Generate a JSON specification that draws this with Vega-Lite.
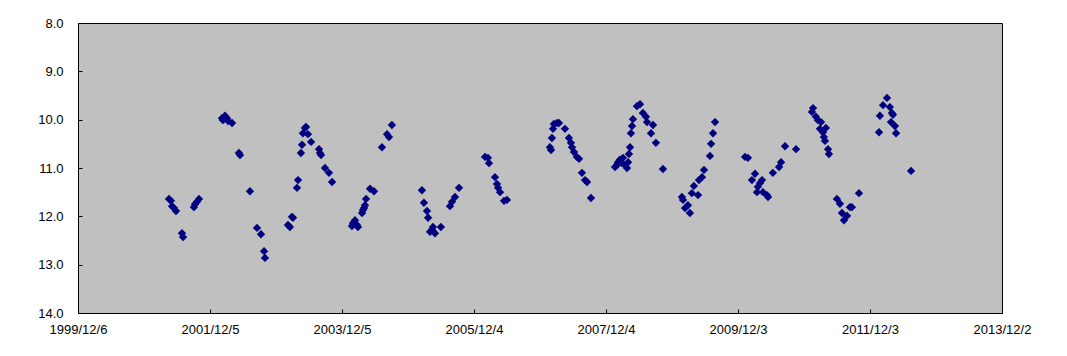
{
  "$schema": "https://vega.github.io/schema/vega-lite/v6.json",
  "width": 924,
  "height": 290,
  "autosize": {"type": "none"},
  "padding": {"left": 78, "top": 23, "right": 65, "bottom": 43},
  "background": "white",
  "config": {
    "view": {"fill": "#C0C0C0", "stroke": "black", "strokeWidth": 1},
    "axis": {
      "domainColor": "black", "tickColor": "black", "labelColor": "black",
      "labelFont": "Liberation Sans", "labelFontSize": 13, "grid": false,
      "tickSize": -4
    }
  },
  "data": {"values": [
    {"d":"2001-04-22","v":11.64},{"d":"2001-05-03","v":11.68},{"d":"2001-05-09","v":11.79},{"d":"2001-05-20","v":11.83},{"d":"2001-05-31","v":11.89},
    {"d":"2001-07-03","v":12.35},{"d":"2001-07-09","v":12.43},{"d":"2001-09-07","v":11.81},{"d":"2001-09-13","v":11.75},{"d":"2001-09-24","v":11.70},{"d":"2001-10-05","v":11.64},
    {"d":"2002-02-09","v":9.97},{"d":"2002-02-15","v":10.01},{"d":"2002-02-26","v":9.92},{"d":"2002-03-09","v":9.97},{"d":"2002-03-15","v":10.03},{"d":"2002-04-06","v":10.07},
    {"d":"2002-05-14","v":10.69},{"d":"2002-05-20","v":10.73},{"d":"2002-07-14","v":11.48},{"d":"2002-08-22","v":12.24},{"d":"2002-09-13","v":12.37},{"d":"2002-09-30","v":12.72},{"d":"2002-10-05","v":12.86},
    {"d":"2003-02-09","v":12.18},{"d":"2003-02-20","v":12.22},{"d":"2003-03-03","v":12.01},{"d":"2003-03-09","v":12.03},{"d":"2003-03-31","v":11.41},{"d":"2003-04-06","v":11.25},
    {"d":"2003-04-22","v":10.69},{"d":"2003-04-28","v":10.52},{"d":"2003-05-03","v":10.28},{"d":"2003-05-14","v":10.17},{"d":"2003-05-20","v":10.15},{"d":"2003-05-31","v":10.30},{"d":"2003-06-17","v":10.46},
    {"d":"2003-07-31","v":10.61},{"d":"2003-08-05","v":10.69},{"d":"2003-08-11","v":10.73},{"d":"2003-09-02","v":11.00},{"d":"2003-09-24","v":11.10},{"d":"2003-10-11","v":11.29},
    {"d":"2004-01-29","v":12.20},{"d":"2004-02-04","v":12.14},{"d":"2004-02-15","v":12.08},{"d":"2004-02-26","v":12.18},{"d":"2004-03-02","v":12.22},{"d":"2004-03-25","v":11.93},{"d":"2004-03-30","v":11.87},
    {"d":"2004-04-05","v":11.83},{"d":"2004-04-10","v":11.77},{"d":"2004-04-16","v":11.64},{"d":"2004-05-08","v":11.43},{"d":"2004-05-30","v":11.48},{"d":"2004-07-13","v":10.57},{"d":"2004-08-10","v":10.30},{"d":"2004-08-21","v":10.36},{"d":"2004-09-06","v":10.11},
    {"d":"2005-02-19","v":11.46},{"d":"2005-03-02","v":11.72},{"d":"2005-03-19","v":11.89},{"d":"2005-03-25","v":12.03},{"d":"2005-04-05","v":12.32},{"d":"2005-04-16","v":12.28},{"d":"2005-04-21","v":12.22},{"d":"2005-05-02","v":12.35},
    {"d":"2005-06-04","v":12.22},{"d":"2005-07-24","v":11.79},{"d":"2005-08-04","v":11.70},{"d":"2005-08-21","v":11.60},{"d":"2005-09-12","v":11.41},
    {"d":"2006-02-03","v":10.77},{"d":"2006-02-19","v":10.79},{"d":"2006-02-25","v":10.90},{"d":"2006-03-30","v":11.19},{"d":"2006-04-10","v":11.33},{"d":"2006-04-16","v":11.41},{"d":"2006-04-27","v":11.50},{"d":"2006-05-19","v":11.68},{"d":"2006-06-04","v":11.66},
    {"d":"2007-01-28","v":10.57},{"d":"2007-02-03","v":10.63},{"d":"2007-02-08","v":10.38},{"d":"2007-02-14","v":10.19},{"d":"2007-02-19","v":10.09},{"d":"2007-03-08","v":10.07},{"d":"2007-03-19","v":10.07},{"d":"2007-04-21","v":10.19},
    {"d":"2007-05-13","v":10.38},{"d":"2007-05-24","v":10.48},{"d":"2007-05-30","v":10.57},{"d":"2007-06-10","v":10.67},{"d":"2007-06-26","v":10.77},{"d":"2007-07-08","v":10.81},{"d":"2007-07-24","v":11.10},{"d":"2007-08-10","v":11.25},{"d":"2007-08-21","v":11.29},{"d":"2007-09-12","v":11.62},
    {"d":"2008-01-23","v":10.98},{"d":"2008-02-03","v":10.94},{"d":"2008-02-08","v":10.88},{"d":"2008-02-19","v":10.83},{"d":"2008-03-01","v":10.90},{"d":"2008-03-07","v":10.79},{"d":"2008-03-18","v":10.94},{"d":"2008-03-29","v":11.00},
    {"d":"2008-04-04","v":10.88},{"d":"2008-04-09","v":10.71},{"d":"2008-04-15","v":10.57},{"d":"2008-04-20","v":10.28},{"d":"2008-04-26","v":10.13},{"d":"2008-05-01","v":9.99},{"d":"2008-05-23","v":9.72},{"d":"2008-06-09","v":9.68},
    {"d":"2008-06-25","v":9.86},{"d":"2008-07-12","v":9.94},{"d":"2008-07-18","v":10.05},{"d":"2008-08-09","v":10.28},{"d":"2008-08-20","v":10.11},{"d":"2008-09-05","v":10.48},{"d":"2008-10-14","v":11.02},
    {"d":"2009-01-27","v":11.60},{"d":"2009-02-02","v":11.66},{"d":"2009-02-13","v":11.83},{"d":"2009-03-01","v":11.77},{"d":"2009-03-12","v":11.93},{"d":"2009-03-23","v":11.52},{"d":"2009-04-03","v":11.37},{"d":"2009-04-26","v":11.56},
    {"d":"2009-05-01","v":11.25},{"d":"2009-05-18","v":11.19},{"d":"2009-05-29","v":11.04},{"d":"2009-07-01","v":10.75},{"d":"2009-07-07","v":10.50},{"d":"2009-07-18","v":10.28},{"d":"2009-07-29","v":10.05},
    {"d":"2010-01-11","v":10.77},{"d":"2010-01-27","v":10.79},{"d":"2010-02-18","v":11.25},{"d":"2010-03-07","v":11.12},{"d":"2010-03-18","v":11.50},{"d":"2010-03-23","v":11.39},{"d":"2010-04-04","v":11.31},{"d":"2010-04-15","v":11.25},
    {"d":"2010-04-20","v":11.50},{"d":"2010-05-12","v":11.56},{"d":"2010-05-18","v":11.60},{"d":"2010-06-14","v":11.10},{"d":"2010-07-18","v":10.98},{"d":"2010-07-29","v":10.88},{"d":"2010-08-20","v":10.55},{"d":"2010-10-20","v":10.61},
    {"d":"2011-01-16","v":9.84},{"d":"2011-01-22","v":9.76},{"d":"2011-02-07","v":9.94},{"d":"2011-02-18","v":10.01},{"d":"2011-03-01","v":10.19},{"d":"2011-03-07","v":10.05},{"d":"2011-03-18","v":10.26},{"d":"2011-03-23","v":10.36},
    {"d":"2011-03-29","v":10.44},{"d":"2011-04-03","v":10.17},{"d":"2011-04-15","v":10.61},{"d":"2011-04-20","v":10.71},{"d":"2011-06-03","v":11.64},{"d":"2011-06-20","v":11.74},{"d":"2011-07-01","v":11.93},{"d":"2011-07-12","v":12.08},
    {"d":"2011-07-29","v":11.99},{"d":"2011-08-14","v":11.81},{"d":"2011-08-25","v":11.81},{"d":"2011-10-03","v":11.52},
    {"d":"2012-01-22","v":10.26},{"d":"2012-01-27","v":9.92},{"d":"2012-02-13","v":9.70},{"d":"2012-03-06","v":9.55},{"d":"2012-03-22","v":9.74},{"d":"2012-03-28","v":10.05},{"d":"2012-04-02","v":9.86},{"d":"2012-04-08","v":9.90},
    {"d":"2012-04-19","v":10.13},{"d":"2012-04-25","v":10.28},{"d":"2012-07-17","v":11.06}
  ]},
  "mark": {"type": "point", "shape": "diamond", "filled": true, "color": "#000080", "opacity": 1, "size": 70},
  "encoding": {
    "x": {
      "field": "d", "type": "temporal", "title": null,
      "scale": {"type": "utc", "nice": false, "domain": [{"year":1999,"month":12,"date":6,"utc":true},{"year":2013,"month":12,"date":2,"utc":true}]},
      "axis": {
        "format": "%Y/%-m/%-d", "labelPadding": 14, "labelFlush": false, "labelOverlap": false,
        "values": [
          {"year":1999,"month":12,"date":6,"utc":true},{"year":2001,"month":12,"date":5,"utc":true},{"year":2003,"month":12,"date":5,"utc":true},
          {"year":2005,"month":12,"date":4,"utc":true},{"year":2007,"month":12,"date":4,"utc":true},{"year":2009,"month":12,"date":3,"utc":true},
          {"year":2011,"month":12,"date":3,"utc":true},{"year":2013,"month":12,"date":2,"utc":true}
        ]
      }
    },
    "y": {
      "field": "v", "type": "quantitative", "title": null,
      "scale": {"domain": [8, 14], "reverse": true, "nice": false, "zero": false},
      "axis": {"values": [8, 9, 10, 11, 12, 13, 14], "format": ".1f", "labelPadding": 19, "labelFlush": false}
    }
  }
}
